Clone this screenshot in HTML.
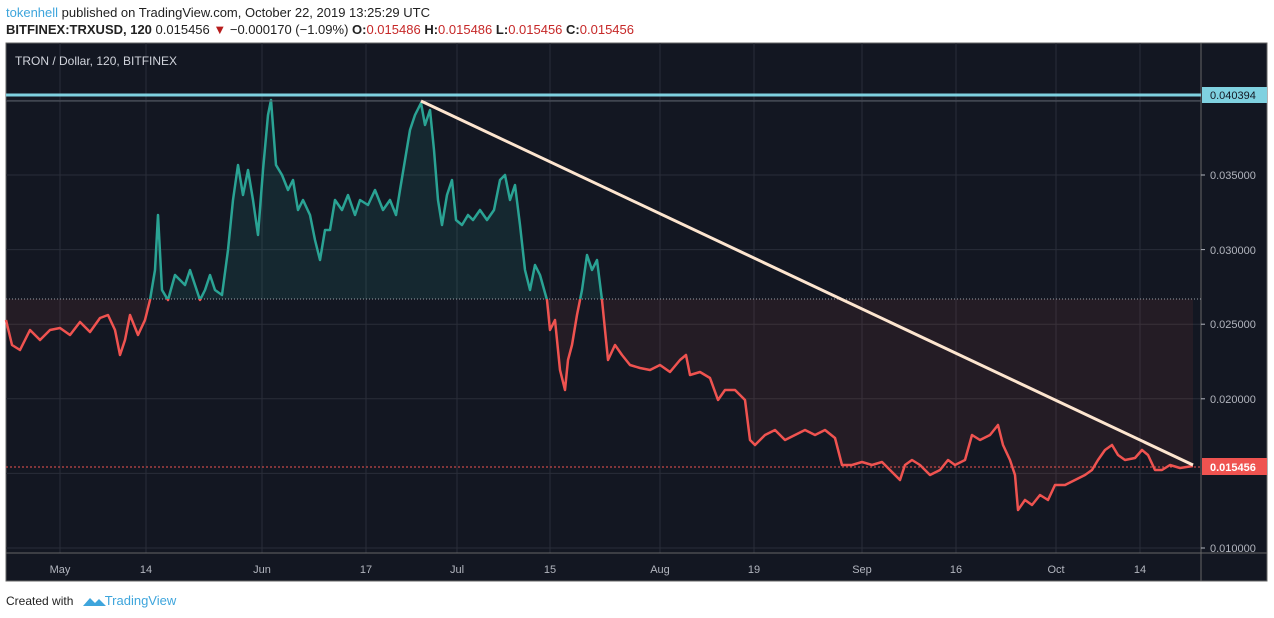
<!DOCTYPE html>
<html><head><meta charset="utf-8"><style>
body{margin:0;width:1274px;height:618px;background:#fff;font-family:"Liberation Sans",sans-serif;position:relative;overflow:hidden}
.t{position:absolute;white-space:nowrap}
</style></head><body>
<div class="t" style="left:6px;top:5px;font-size:13px;color:#222"><span style="color:#3ea5dc">tokenhell</span> published on TradingView.com, October 22, 2019 13:25:29 UTC</div>
<div class="t" style="left:6px;top:22px;font-size:13px;color:#222"><b>BITFINEX:TRXUSD, 120</b> 0.015456 <span style="color:#b71c1c">▼</span> −0.000170 (−1.09%) <b>O:</b><span style="color:#c62828">0.015486</span> <b>H:</b><span style="color:#c62828">0.015486</span> <b>L:</b><span style="color:#c62828">0.015456</span> <b>C:</b><span style="color:#c62828">0.015456</span></div>
<svg style="position:absolute;left:0;top:0" width="1274" height="618" font-family="Liberation Sans, sans-serif">
<rect x="6" y="43" width="1261" height="538" fill="#131722" stroke="#666" stroke-width="1"/>
<g stroke="#2a2e39" stroke-width="1">
<line x1="6" x2="1201" y1="548" y2="548"/><line x1="6" x2="1201" y1="473.4" y2="473.4"/><line x1="6" x2="1201" y1="398.8" y2="398.8"/><line x1="6" x2="1201" y1="324.2" y2="324.2"/><line x1="6" x2="1201" y1="249.6" y2="249.6"/><line x1="6" x2="1201" y1="175" y2="175"/><line x1="6" x2="1201" y1="100.4" y2="100.4"/>
<line x1="60" x2="60" y1="43" y2="553"/><line x1="146" x2="146" y1="43" y2="553"/><line x1="262" x2="262" y1="43" y2="553"/><line x1="366" x2="366" y1="43" y2="553"/><line x1="457" x2="457" y1="43" y2="553"/><line x1="550" x2="550" y1="43" y2="553"/><line x1="660" x2="660" y1="43" y2="553"/><line x1="754" x2="754" y1="43" y2="553"/><line x1="862" x2="862" y1="43" y2="553"/><line x1="956" x2="956" y1="43" y2="553"/><line x1="1056" x2="1056" y1="43" y2="553"/><line x1="1140" x2="1140" y1="43" y2="553"/>
</g>
<line x1="6" x2="1267" y1="553" y2="553" stroke="#666"/>
<line x1="1201" x2="1201" y1="43" y2="581" stroke="#666"/>
<defs>
<clipPath id="up"><rect x="0" y="0" width="1201" height="299"/></clipPath>
<clipPath id="dn"><rect x="0" y="299" width="1201" height="300"/></clipPath>
</defs>
<polygon fill="rgba(38,166,154,0.12)" clip-path="url(#up)" points="6,299 6,320 12,345 20,350 30,330 40,340 50,330 60,328 70,335 80,322 90,332 100,318 108,315 115,330 120,355 125,340 130,315 138,335 145,320 150,300 155,270 158,215 162,290 168,300 175,275 185,285 190,270 195,285 200,300 205,290 210,275 215,290 222,295 228,250 233,200 238,165 243,195 248,170 253,200 258,235 263,170 268,115 271,100 276,165 282,175 288,190 293,180 298,210 303,200 310,215 315,240 320,260 325,230 330,230 335,200 342,210 348,195 355,215 360,200 368,205 375,190 383,210 390,200 396,215 400,190 405,160 410,130 415,115 421,103 425,125 430,110 434,150 438,200 442,225 447,195 452,180 456,220 462,225 468,215 473,220 480,210 487,220 494,210 500,180 505,175 510,200 515,185 520,225 525,270 530,290 535,265 540,275 547,300 550,330 555,320 560,370 565,390 568,360 572,345 577,315 582,290 587,255 592,270 597,260 602,300 605,330 608,360 615,345 622,355 630,365 640,368 650,370 660,365 670,372 680,360 686,355 690,375 700,372 710,378 718,400 725,390 735,390 745,400 750,440 755,445 765,435 775,430 785,440 795,435 805,430 815,435 825,430 835,438 842,465 852,465 862,462 872,465 882,462 890,470 900,480 905,465 912,460 920,465 930,475 940,470 948,460 955,465 965,460 972,435 980,440 990,435 998,425 1003,445 1010,460 1015,475 1018,510 1025,500 1032,505 1040,495 1048,500 1055,485 1065,485 1075,480 1085,475 1092,470 1098,460 1105,450 1112,445 1118,455 1125,460 1135,458 1142,450 1148,455 1155,470 1162,470 1170,465 1180,468 1193,466 1193,299"/>
<polygon fill="rgba(239,83,80,0.08)" clip-path="url(#dn)" points="6,299 6,320 12,345 20,350 30,330 40,340 50,330 60,328 70,335 80,322 90,332 100,318 108,315 115,330 120,355 125,340 130,315 138,335 145,320 150,300 155,270 158,215 162,290 168,300 175,275 185,285 190,270 195,285 200,300 205,290 210,275 215,290 222,295 228,250 233,200 238,165 243,195 248,170 253,200 258,235 263,170 268,115 271,100 276,165 282,175 288,190 293,180 298,210 303,200 310,215 315,240 320,260 325,230 330,230 335,200 342,210 348,195 355,215 360,200 368,205 375,190 383,210 390,200 396,215 400,190 405,160 410,130 415,115 421,103 425,125 430,110 434,150 438,200 442,225 447,195 452,180 456,220 462,225 468,215 473,220 480,210 487,220 494,210 500,180 505,175 510,200 515,185 520,225 525,270 530,290 535,265 540,275 547,300 550,330 555,320 560,370 565,390 568,360 572,345 577,315 582,290 587,255 592,270 597,260 602,300 605,330 608,360 615,345 622,355 630,365 640,368 650,370 660,365 670,372 680,360 686,355 690,375 700,372 710,378 718,400 725,390 735,390 745,400 750,440 755,445 765,435 775,430 785,440 795,435 805,430 815,435 825,430 835,438 842,465 852,465 862,462 872,465 882,462 890,470 900,480 905,465 912,460 920,465 930,475 940,470 948,460 955,465 965,460 972,435 980,440 990,435 998,425 1003,445 1010,460 1015,475 1018,510 1025,500 1032,505 1040,495 1048,500 1055,485 1065,485 1075,480 1085,475 1092,470 1098,460 1105,450 1112,445 1118,455 1125,460 1135,458 1142,450 1148,455 1155,470 1162,470 1170,465 1180,468 1193,466 1193,299"/>
<line x1="6" x2="1201" y1="299" y2="299" stroke="#9aa0a8" stroke-dasharray="1,2" stroke-width="1"/>
<polyline fill="none" stroke="#2aa394" clip-path="url(#up)" stroke-width="2.5" stroke-linejoin="round" points="6,320 12,345 20,350 30,330 40,340 50,330 60,328 70,335 80,322 90,332 100,318 108,315 115,330 120,355 125,340 130,315 138,335 145,320 150,300 155,270 158,215 162,290 168,300 175,275 185,285 190,270 195,285 200,300 205,290 210,275 215,290 222,295 228,250 233,200 238,165 243,195 248,170 253,200 258,235 263,170 268,115 271,100 276,165 282,175 288,190 293,180 298,210 303,200 310,215 315,240 320,260 325,230 330,230 335,200 342,210 348,195 355,215 360,200 368,205 375,190 383,210 390,200 396,215 400,190 405,160 410,130 415,115 421,103 425,125 430,110 434,150 438,200 442,225 447,195 452,180 456,220 462,225 468,215 473,220 480,210 487,220 494,210 500,180 505,175 510,200 515,185 520,225 525,270 530,290 535,265 540,275 547,300 550,330 555,320 560,370 565,390 568,360 572,345 577,315 582,290 587,255 592,270 597,260 602,300 605,330 608,360 615,345 622,355 630,365 640,368 650,370 660,365 670,372 680,360 686,355 690,375 700,372 710,378 718,400 725,390 735,390 745,400 750,440 755,445 765,435 775,430 785,440 795,435 805,430 815,435 825,430 835,438 842,465 852,465 862,462 872,465 882,462 890,470 900,480 905,465 912,460 920,465 930,475 940,470 948,460 955,465 965,460 972,435 980,440 990,435 998,425 1003,445 1010,460 1015,475 1018,510 1025,500 1032,505 1040,495 1048,500 1055,485 1065,485 1075,480 1085,475 1092,470 1098,460 1105,450 1112,445 1118,455 1125,460 1135,458 1142,450 1148,455 1155,470 1162,470 1170,465 1180,468 1193,466"/>
<polyline fill="none" stroke="#ef5350" clip-path="url(#dn)" stroke-width="2.5" stroke-linejoin="round" points="6,320 12,345 20,350 30,330 40,340 50,330 60,328 70,335 80,322 90,332 100,318 108,315 115,330 120,355 125,340 130,315 138,335 145,320 150,300 155,270 158,215 162,290 168,300 175,275 185,285 190,270 195,285 200,300 205,290 210,275 215,290 222,295 228,250 233,200 238,165 243,195 248,170 253,200 258,235 263,170 268,115 271,100 276,165 282,175 288,190 293,180 298,210 303,200 310,215 315,240 320,260 325,230 330,230 335,200 342,210 348,195 355,215 360,200 368,205 375,190 383,210 390,200 396,215 400,190 405,160 410,130 415,115 421,103 425,125 430,110 434,150 438,200 442,225 447,195 452,180 456,220 462,225 468,215 473,220 480,210 487,220 494,210 500,180 505,175 510,200 515,185 520,225 525,270 530,290 535,265 540,275 547,300 550,330 555,320 560,370 565,390 568,360 572,345 577,315 582,290 587,255 592,270 597,260 602,300 605,330 608,360 615,345 622,355 630,365 640,368 650,370 660,365 670,372 680,360 686,355 690,375 700,372 710,378 718,400 725,390 735,390 745,400 750,440 755,445 765,435 775,430 785,440 795,435 805,430 815,435 825,430 835,438 842,465 852,465 862,462 872,465 882,462 890,470 900,480 905,465 912,460 920,465 930,475 940,470 948,460 955,465 965,460 972,435 980,440 990,435 998,425 1003,445 1010,460 1015,475 1018,510 1025,500 1032,505 1040,495 1048,500 1055,485 1065,485 1075,480 1085,475 1092,470 1098,460 1105,450 1112,445 1118,455 1125,460 1135,458 1142,450 1148,455 1155,470 1162,470 1170,465 1180,468 1193,466"/>
<line x1="6" x2="1201" y1="467" y2="467" stroke="#ef5350" stroke-dasharray="2,2" stroke-width="1"/>
<line x1="6" x2="1201" y1="95" y2="95" stroke="#7fd1e0" stroke-width="3"/>
<line x1="6" x2="1201" y1="101" y2="101" stroke="#555c66" stroke-width="1"/>
<line x1="421" y1="101" x2="1193" y2="465" stroke="#fde5cf" stroke-width="3"/>
<g font-size="11" fill="#b2b5be">
<text x="1210" y="552">0.010000</text><text x="1210" y="403">0.020000</text><text x="1210" y="328">0.025000</text><text x="1210" y="254">0.030000</text><text x="1210" y="179">0.035000</text>
</g>
<g stroke="#b2b5be"><line x1="1201" x2="1205" y1="548" y2="548"/><line x1="1201" x2="1205" y1="398.8" y2="398.8"/><line x1="1201" x2="1205" y1="324.2" y2="324.2"/><line x1="1201" x2="1205" y1="249.6" y2="249.6"/><line x1="1201" x2="1205" y1="175" y2="175"/></g>
<rect x="1202" y="87" width="65" height="16" fill="#7fd1e0"/>
<text x="1210" y="99" font-size="11" fill="#131722">0.040394</text>
<rect x="1202" y="458" width="65" height="17" fill="#ef5350"/>
<text x="1210" y="471" font-size="11" font-weight="bold" fill="#fff">0.015456</text>
<g font-size="11" fill="#b2b5be" text-anchor="middle">
<text x="60" y="573">May</text><text x="146" y="573">14</text><text x="262" y="573">Jun</text><text x="366" y="573">17</text><text x="457" y="573">Jul</text><text x="550" y="573">15</text><text x="660" y="573">Aug</text><text x="754" y="573">19</text><text x="862" y="573">Sep</text><text x="956" y="573">16</text><text x="1056" y="573">Oct</text><text x="1140" y="573">14</text>
</g>
<text x="15" y="65" font-size="12" fill="#d1d4dc">TRON / Dollar, 120, BITFINEX</text>
<path d="M83,606 l7,-8 l5,5 l4,-4 l7,7 z" fill="#3ea5dc"/>
</svg>
<div class="t" style="left:6px;top:593px;font-size:12px;color:#222">Created with <span style="margin-left:28px;color:#3ea5dc;font-size:13px">TradingView</span></div>
</body></html>
